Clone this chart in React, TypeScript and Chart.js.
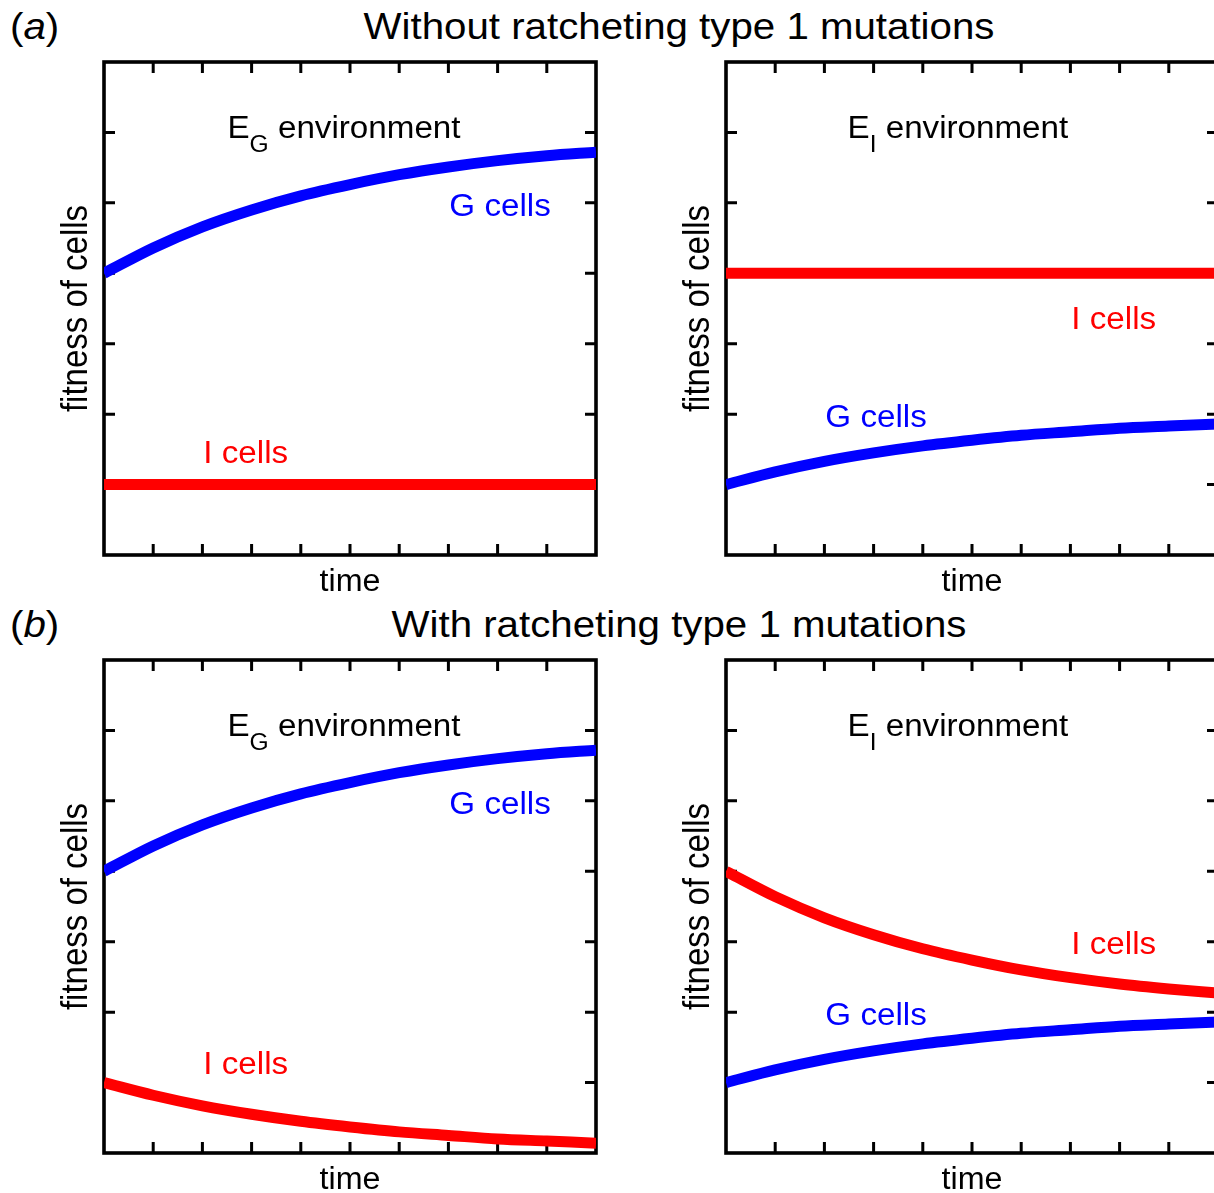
import React, { useEffect, useRef } from 'react';
import { Chart, registerables } from 'chart.js';

Chart.register(...registerables);

// ---------- data ----------
const timeSteps = [0, 1, 2, 3, 4, 5, 6, 7, 8, 9, 10];
const xTickValues = [1, 2, 3, 4, 5, 6, 7, 8, 9];
const yTickValues = [1, 2, 3, 4, 5, 6];

// (a) without ratcheting
const gCellsEG_a = [4.0, 4.36, 4.66, 4.9, 5.1, 5.26, 5.4, 5.51, 5.6, 5.67, 5.72];
const iCellsEG_a = [1.0, 1.0, 1.0, 1.0, 1.0, 1.0, 1.0, 1.0, 1.0, 1.0, 1.0];
const iCellsEI_a = [4.0, 4.0, 4.0, 4.0, 4.0, 4.0, 4.0, 4.0, 4.0, 4.0, 4.0];
const gCellsEI_a = [1.0, 1.18, 1.33, 1.45, 1.55, 1.63, 1.7, 1.75, 1.8, 1.83, 1.86];
// (b) with ratcheting
const gCellsEG_b = [4.0, 4.36, 4.66, 4.9, 5.1, 5.26, 5.4, 5.51, 5.6, 5.67, 5.72];
const iCellsEG_b = [1.0, 0.82, 0.67, 0.55, 0.45, 0.37, 0.3, 0.25, 0.2, 0.17, 0.14];
const iCellsEI_b = [4.0, 3.64, 3.34, 3.1, 2.9, 2.74, 2.6, 2.49, 2.4, 2.33, 2.27];
const gCellsEI_b = [1.0, 1.18, 1.33, 1.45, 1.55, 1.63, 1.7, 1.75, 1.8, 1.83, 1.86];

const titleA = 'Without ratcheting type 1 mutations';
const titleB = 'With ratcheting type 1 mutations';
const xAxisTitle = 'time';
const yAxisTitle = 'fitness of cells';

// ---------- styles ----------
const BLUE = '#0000ff';
const RED = '#ff0000';
const FONT = '"Liberation Sans", Arial, Helvetica, sans-serif';
const LABEL_FS = 31;
const LABEL_SX = 1.07;
const SUB_FS = 23;
const SUB_DY = 14;
const TIME_FS = 31;
const TIME_SX = 1.04;
const YT_FS = 33;
const YT_SX = 1.1;
const TITLE_FS = 36;
const TITLE_SX = 1.118;

type Series = { name: string; values: number[]; color: string };
type CellLabel = { text: string; color: string; x: number; y: number };
type PanelDef = {
  id: string;
  left: number;
  top: number;
  width: number;
  height: number;
  pad: { left: number; right: number; top: number; bottom: number };
  series: Series[];
  envSub: string;
  envPos: [number, number];
  cellLabels: CellLabel[];
};

const padLeftPanel = { left: 104, right: 14, top: 14, bottom: 53 };
const padRightPanel = { left: 116, right: 12, top: 14, bottom: 53 };

const panels: PanelDef[] = [
  {
    id: 'a-left', left: 0, top: 48, width: 610, height: 560, pad: padLeftPanel,
    series: [
      { name: 'G cells', values: gCellsEG_a, color: BLUE },
      { name: 'I cells', values: iCellsEG_a, color: RED },
    ],
    envSub: 'G', envPos: [2.51, 5.92],
    cellLabels: [
      { text: 'G cells', color: BLUE, x: 8.05, y: 4.81 },
      { text: 'I cells', color: RED, x: 2.88, y: 1.31 },
    ],
  },
  {
    id: 'a-right', left: 610, top: 48, width: 620, height: 560, pad: padRightPanel,
    series: [
      { name: 'G cells', values: gCellsEI_a, color: BLUE },
      { name: 'I cells', values: iCellsEI_a, color: RED },
    ],
    envSub: 'I', envPos: [2.47, 5.92],
    cellLabels: [
      { text: 'I cells', color: RED, x: 7.88, y: 3.21 },
      { text: 'G cells', color: BLUE, x: 3.05, y: 1.82 },
    ],
  },
  {
    id: 'b-left', left: 0, top: 646, width: 610, height: 560, pad: padLeftPanel,
    series: [
      { name: 'G cells', values: gCellsEG_b, color: BLUE },
      { name: 'I cells', values: iCellsEG_b, color: RED },
    ],
    envSub: 'G', envPos: [2.51, 5.92],
    cellLabels: [
      { text: 'G cells', color: BLUE, x: 8.05, y: 4.81 },
      { text: 'I cells', color: RED, x: 2.88, y: 1.12 },
    ],
  },
  {
    id: 'b-right', left: 610, top: 646, width: 620, height: 560, pad: padRightPanel,
    series: [
      { name: 'G cells', values: gCellsEI_b, color: BLUE },
      { name: 'I cells', values: iCellsEI_b, color: RED },
    ],
    envSub: 'I', envPos: [2.47, 5.92],
    cellLabels: [
      { text: 'I cells', color: RED, x: 7.88, y: 2.83 },
      { text: 'G cells', color: BLUE, x: 3.05, y: 1.82 },
    ],
  },
];

function drawText(
  ctx: CanvasRenderingContext2D, text: string, x: number, y: number,
  fs: number, color: string, align: CanvasTextAlign, sx: number, rotate = false
) {
  ctx.save();
  ctx.translate(x, y);
  ctx.scale(sx, 1);
  if (rotate) ctx.rotate(-Math.PI / 2);
  ctx.font = `${fs}px ${FONT}`;
  ctx.fillStyle = color;
  ctx.textAlign = align;
  ctx.textBaseline = 'alphabetic';
  ctx.fillText(text, 0, 0);
  ctx.restore();
}

function measure(ctx: CanvasRenderingContext2D, text: string, fs: number, sx: number) {
  ctx.save();
  ctx.font = `${fs}px ${FONT}`;
  const w = ctx.measureText(text).width * sx;
  ctx.restore();
  return w;
}

function makeFramePlugin() {
  return {
    id: 'frameTicks',
    beforeDatasetsDraw(chart: any) {
      const ctx: CanvasRenderingContext2D = chart.ctx;
      const { left, right, top, bottom } = chart.chartArea;
      const xs = chart.scales.x;
      const ys = chart.scales.y;
      ctx.save();
      ctx.strokeStyle = '#000';
      ctx.lineJoin = 'miter';
      ctx.lineCap = 'butt';
      ctx.lineWidth = 3;
      ctx.beginPath();
      for (const v of xTickValues) {
        const px = xs.getPixelForValue(v);
        ctx.moveTo(px, bottom);
        ctx.lineTo(px, bottom - 11);
        ctx.moveTo(px, top);
        ctx.lineTo(px, top + 11);
      }
      for (const v of yTickValues) {
        const py = ys.getPixelForValue(v);
        ctx.moveTo(left, py);
        ctx.lineTo(left + 11, py);
        ctx.moveTo(right, py);
        ctx.lineTo(right - 11, py);
      }
      ctx.stroke();
      ctx.lineWidth = 3.6;
      ctx.strokeRect(left, top, right - left, bottom - top);
      ctx.restore();
    },
  };
}

function makeLabelPlugin(def: PanelDef) {
  return {
    id: 'panelLabels',
    afterDraw(chart: any) {
      const ctx: CanvasRenderingContext2D = chart.ctx;
      const { left, right, top, bottom } = chart.chartArea;
      const xs = chart.scales.x;
      const ys = chart.scales.y;
      // environment label with subscript
      let ex = xs.getPixelForValue(def.envPos[0]);
      const ey = ys.getPixelForValue(def.envPos[1]);
      drawText(ctx, 'E', ex, ey, LABEL_FS, '#000', 'left', LABEL_SX);
      ex += measure(ctx, 'E', LABEL_FS, LABEL_SX);
      drawText(ctx, def.envSub, ex, ey + SUB_DY, SUB_FS, '#000', 'left', LABEL_SX);
      ex += measure(ctx, def.envSub, SUB_FS, LABEL_SX);
      drawText(ctx, ' environment', ex, ey, LABEL_FS, '#000', 'left', LABEL_SX);
      // series labels
      for (const l of def.cellLabels) {
        drawText(ctx, l.text, xs.getPixelForValue(l.x), ys.getPixelForValue(l.y), LABEL_FS, l.color, 'center', LABEL_SX);
      }
      // axis titles
      drawText(ctx, xAxisTitle, (left + right) / 2, bottom + 36, TIME_FS, '#000', 'center', TIME_SX);
      drawText(ctx, yAxisTitle, left - 17.5, (top + bottom) / 2, YT_FS, '#000', 'center', YT_SX, true);
    },
  };
}

function Panel({ def }: { def: PanelDef }) {
  const ref = useRef<HTMLCanvasElement>(null);
  useEffect(() => {
    const canvas = ref.current;
    if (!canvas) return;
    const chart = new Chart(canvas, {
      type: 'line',
      data: {
        datasets: def.series.map((s) => ({
          label: s.name,
          data: timeSteps.map((t, i) => ({ x: t, y: s.values[i] })),
          borderColor: s.color,
          backgroundColor: s.color,
          borderWidth: 11,
          pointRadius: 0,
          pointHoverRadius: 0,
          cubicInterpolationMode: 'monotone' as const,
          fill: false,
        })),
      },
      options: {
        responsive: false,
        animation: false,
        devicePixelRatio: 1,
        events: [],
        layout: { padding: def.pad },
        plugins: { legend: { display: false }, tooltip: { enabled: false } },
        scales: {
          x: { type: 'linear', min: 0, max: 10, display: false },
          y: { type: 'linear', min: 0, max: 7, display: false },
        },
      },
      plugins: [makeFramePlugin(), makeLabelPlugin(def)],
    } as any);
    return () => chart.destroy();
  }, [def]);
  return (
    <canvas
      ref={ref}
      width={def.width}
      height={def.height}
      style={{ position: 'absolute', left: def.left, top: def.top, width: def.width, height: def.height }}
    />
  );
}

function Heading({ baseline, letter, title }: { baseline: number; letter: string; title: string }) {
  const top = baseline - 0.3465 * TITLE_FS;
  const common: React.CSSProperties = {
    position: 'absolute',
    top,
    height: 0,
    lineHeight: 0,
    fontFamily: FONT,
    fontSize: TITLE_FS,
    whiteSpace: 'nowrap',
    color: '#000',
  };
  return (
    <>
      <div style={{ ...common, left: 10, transformOrigin: 'left center', transform: `scaleX(${TITLE_SX})` }}>
        (<i>{letter}</i>)
      </div>
      <div style={{ ...common, left: 678.5, transform: `translateX(-50%) scaleX(${TITLE_SX})` }}>{title}</div>
    </>
  );
}

export default function App() {
  return (
    <div
      style={{
        position: 'absolute',
        left: 0,
        top: 0,
        width: 1214,
        height: 1193,
        overflow: 'hidden',
        background: '#fff',
      }}
    >
      <Heading baseline={39} letter="a" title={titleA} />
      <Heading baseline={637} letter="b" title={titleB} />
      {panels.map((p) => (
        <Panel key={p.id} def={p} />
      ))}
    </div>
  );
}
